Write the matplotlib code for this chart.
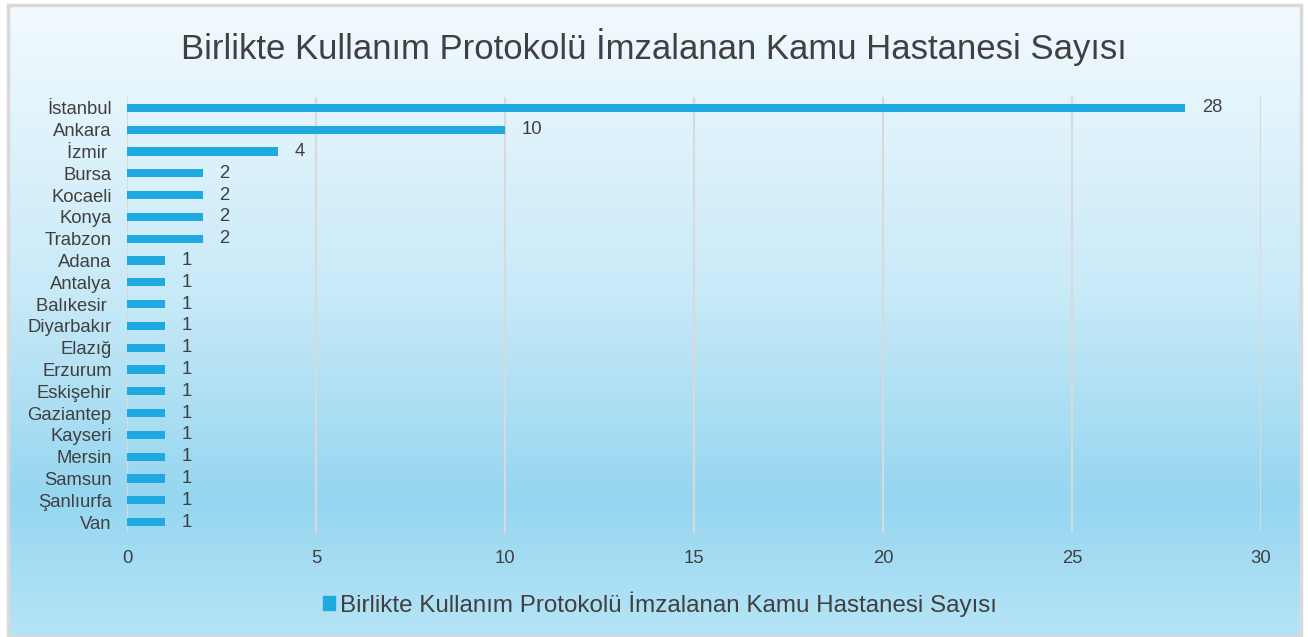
import numpy as np
import matplotlib.pyplot as plt
from matplotlib.patches import Rectangle
from matplotlib.colors import LinearSegmentedColormap

plt.rcParams['font.family'] = ['Liberation Sans', 'DejaVu Sans']

cities = ['İstanbul', 'Ankara', 'İzmir ', 'Bursa', 'Kocaeli', 'Konya', 'Trabzon',
          'Adana', 'Antalya', 'Balıkesir ', 'Diyarbakır', 'Elazığ', 'Erzurum',
          'Eskişehir', 'Gaziantep', 'Kayseri', 'Mersin', 'Samsun', 'Şanlıurfa', 'Van']
counts = [28, 10, 4, 2, 2, 2, 2, 1, 1, 1, 1, 1, 1, 1, 1, 1, 1, 1, 1, 1]
title = 'Birlikte Kullanım Protokolü İmzalanan Kamu Hastanesi Sayısı'

W, H = 1308, 637
fig = plt.figure(figsize=(W / 100, H / 100), dpi=100)

# gradient background (white at top -> light blue)
bg = fig.add_axes([8 / W, 0, 1293 / W, 1 - 5 / H])
bg.set_axis_off()
cmap = LinearSegmentedColormap.from_list('bgc', [(0.0, '#f2fafe'), (0.45, '#c9eaf8'),
                                                 (0.78, '#96d6f0'), (1.0, '#b6e4f7')])
grad = np.linspace(0, 1, 256).reshape(-1, 1)
bg.imshow(grad, aspect='auto', cmap=cmap, extent=[0, 1, 0, 1], origin='upper')
bg.add_patch(Rectangle((0, 0), 1, 1, transform=bg.transAxes, fill=False,
                       edgecolor='#d9d9d9', linewidth=2.5, clip_on=False))

ax = fig.add_axes([127 / W, 1 - 533 / H, (1261 - 127) / W, (533 - 97) / H])
ax.patch.set_alpha(0)
y = np.arange(len(cities))
bar_color = '#1ea9e1'
ax.barh(y, counts, height=0.37, color=bar_color, zorder=3)
for yi, c in zip(y, counts):
    ax.annotate(str(c), (c, yi), xytext=(12, 0), textcoords='offset points',
                va='center', ha='left', fontsize=13.3, color='#404040')

ax.set_xlim(0, 30)
ax.set_ylim(len(cities) - 0.5, -0.5)
ax.set_xticks(range(0, 31, 5))
ax.set_yticks(y)
ax.set_yticklabels(cities)
ax.tick_params(axis='both', length=0, labelsize=13.3, labelcolor='#404040')
ax.tick_params(axis='x', pad=12)
ax.tick_params(axis='y', pad=11)
ax.grid(axis='x', color='#d9d9d9', linewidth=1.5, zorder=0)
for s in ax.spines.values():
    s.set_visible(False)

fig.text(0.5, 1 - 47 / H, title, ha='center', va='center', fontsize=25, color='#404040')

h = Rectangle((0, 0), 1, 1, color=bar_color)
fig.legend([h], [title], loc='center', bbox_to_anchor=(660 / W, 1 - 604 / H),
           frameon=False, fontsize=17.4, handlelength=0.5, handleheight=0.5,
           handletextpad=0.2, labelcolor='#404040')

fig.savefig('out.png', dpi=100)
